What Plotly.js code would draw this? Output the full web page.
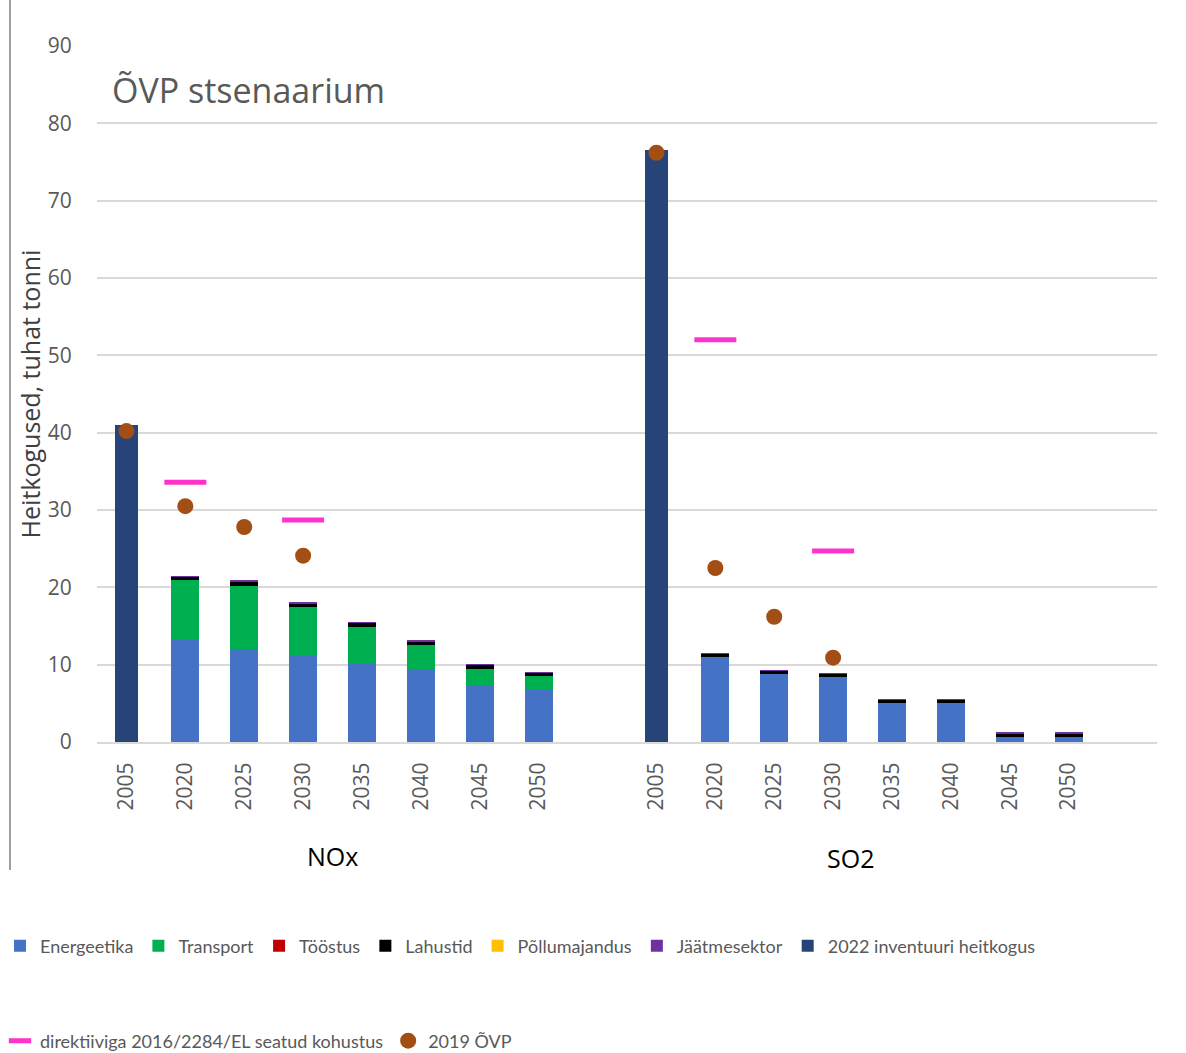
<!DOCTYPE html>
<html>
<head>
<meta charset="utf-8">
<script src="https://cdn.plot.ly/plotly-3.0.1.min.js"></script>
<style>html,body{margin:0;padding:0;background:#fff;}#chart{width:1186px;height:1053px;}</style>
</head>
<body>
<div id="chart"></div>
<script>
// ---- Data ----
const years = ["2005","2020","2025","2030","2035","2040","2045","2050"];
const groups = ["NOx","SO2"];

const noxEnergeetika   = [null, 13.3, 12.0, 11.1, 10.2, 9.4, 7.2, 6.7];
const noxTransport     = [null, 7.7, 8.2, 6.4, 4.7, 3.1, 2.2, 1.8];
const noxToostus       = [null, 0, 0, 0, 0, 0, 0, 0];
const noxLahustid      = [null, 0.35, 0.5, 0.4, 0.45, 0.45, 0.5, 0.4];
const noxPollumajandus = [null, 0, 0, 0, 0, 0, 0, 0];
const noxJaatme        = [null, 0.15, 0.25, 0.15, 0.2, 0.2, 0.15, 0.1];
const noxInventuur     = [41.0, null, null, null, null, null, null, null];
const noxKohustus      = [null, 33.6, null, 28.7, null, null, null, null];
const noxOvp2019       = [40.2, 30.5, 27.8, 24.1, null, null, null, null];

const so2Energeetika   = [null, 10.8, 8.8, 8.45, 5.1, 5.1, 0.65, 0.7];
const so2Transport     = [null, 0.15, 0, 0, 0, 0, 0, 0];
const so2Toostus       = [null, 0, 0, 0, 0, 0, 0, 0];
const so2Lahustid      = [null, 0.37, 0.37, 0.37, 0.37, 0.37, 0.42, 0.37];
const so2Pollumajandus = [null, 0, 0, 0, 0, 0, 0, 0];
const so2Jaatme        = [null, 0.2, 0.2, 0.15, 0.15, 0.15, 0.2, 0.2];
const so2Inventuur     = [76.5, null, null, null, null, null, null, null];
const so2Kohustus      = [null, 52.0, null, 24.7, null, null, null, null];
const so2Ovp2019       = [76.2, 22.5, 16.2, 10.9, null, null, null, null];

// ---- Category positions (one empty slot between groups) ----
const noxX = years.map((_, i) => i);
const so2X = years.map((_, i) => i + years.length + 1);
const allX = noxX.concat(so2X);
const tickText = years.concat(years);

const gray = '#595959';
const sectors = [
  {name: 'Energeetika', nox: noxEnergeetika, so2: so2Energeetika, color: '#4472C4'},
  {name: 'Transport', nox: noxTransport, so2: so2Transport, color: '#00B050'},
  {name: 'Tööstus', nox: noxToostus, so2: so2Toostus, color: '#C00000'},
  {name: 'Lahustid', nox: noxLahustid, so2: so2Lahustid, color: '#000000'},
  {name: 'Põllumajandus', nox: noxPollumajandus, so2: so2Pollumajandus, color: '#FFC000'},
  {name: 'Jäätmesektor', nox: noxJaatme, so2: so2Jaatme, color: '#7030A0'}
];

const traces = sectors.map(s => ({
  type: 'bar', name: s.name, x: allX, y: s.nox.concat(s.so2),
  width: 0.47, marker: {color: s.color, line: {width: 0}},
  legend: 'legend', hoverinfo: 'name+y'
}));
traces.push({
  type: 'bar', name: '2022 inventuuri heitkogus', x: allX, y: noxInventuur.concat(so2Inventuur),
  width: 0.39, marker: {color: '#264478', line: {width: 0}}, legend: 'legend'
});
traces.push({
  type: 'scatter', mode: 'markers', name: 'direktiiviga 2016/2284/EL seatud kohustus',
  x: allX, y: noxKohustus.concat(so2Kohustus),
  marker: {symbol: 'line-ew', size: 30, color: '#FF33CC', line: {color: '#FF33CC', width: 5}},
  legend: 'legend2'
});
traces.push({
  type: 'scatter', mode: 'markers', name: '2019 ÕVP',
  x: allX, y: noxOvp2019.concat(so2Ovp2019),
  marker: {symbol: 'circle', size: 16, color: '#A24E14'},
  legend: 'legend2'
});

const W = 1186, H = 1053;
const plotL = 97, plotR = 1157, plotT = 46, plotB = 742;
const pw = plotR - plotL, ph = plotB - plotT;
const py = p => (plotB - p) / ph;   // pixel y -> paper y
const px = p => (p - plotL) / pw;   // pixel x -> paper x

const layout = {
  width: W, height: H,
  margin: {l: plotL, r: W - plotR, t: plotT, b: H - plotB},
  paper_bgcolor: '#fff', plot_bgcolor: '#fff',
  barmode: 'stack', bargap: 0,
  font: {family: '"Open Sans", sans-serif', color: gray},
  xaxis: {
    range: [-0.5, 17.5], tickmode: 'array', tickvals: allX, ticktext: tickText,
    tickangle: -90, ticks: 'outside', ticklen: 10, tickcolor: 'rgba(0,0,0,0)',
    tickfont: {size: 21, color: gray}, showgrid: false, zeroline: false,
    showline: true, linecolor: '#D9D9D9', linewidth: 2, fixedrange: true, automargin: false
  },
  yaxis: {
    range: [0, 90], dtick: 10, tick0: 0, showgrid: true, gridcolor: '#D9D9D9', gridwidth: 2,
    zeroline: false, ticks: 'outside', ticklen: 20, tickcolor: 'rgba(0,0,0,0)',
    tickfont: {size: 21, color: gray}, fixedrange: true, automargin: false,
    title: {text: 'Heitkogused, tuhat tonni', font: {size: 25, color: '#404040'}, standoff: 0}
  },
  showlegend: true,
  legend: {
    orientation: 'h', xref: 'container', yref: 'container', x: 0, xanchor: 'left',
    y: 1 - 946 / H, yanchor: 'middle',
    font: {family: 'Lato, sans-serif', size: 18, color: gray}, itemwidth: 30,
    bgcolor: 'rgba(0,0,0,0)', traceorder: 'normal'
  },
  legend2: {
    orientation: 'h', xref: 'container', yref: 'container', x: 0, xanchor: 'left',
    y: 1 - 1041 / H, yanchor: 'middle',
    font: {family: 'Lato, sans-serif', size: 18, color: gray}, itemwidth: 30,
    bgcolor: 'rgba(0,0,0,0)', traceorder: 'normal'
  },
  annotations: [
    {text: 'ÕVP stsenaarium', xref: 'paper', yref: 'paper', x: px(110), y: py(90),
     xanchor: 'left', yanchor: 'middle', showarrow: false,
     font: {size: 34, color: gray, family: '"Open Sans", sans-serif'}},
    {text: groups[0], xref: 'x', yref: 'paper', x: 3.5, y: py(856), xanchor: 'center', yanchor: 'middle',
     showarrow: false, font: {size: 25, color: '#000'}},
    {text: groups[1], xref: 'x', yref: 'paper', x: 12.3, y: py(858), xanchor: 'center', yanchor: 'middle',
     showarrow: false, font: {size: 25, color: '#000'}}
  ],
  shapes: [
    {type: 'line', xref: 'paper', yref: 'paper', x0: px(10), x1: px(10), y0: py(0), y1: py(870),
     line: {color: '#7F7F7F', width: 1.5}}
  ]
};

Plotly.newPlot('chart', traces, layout, {displayModeBar: false, staticPlot: true});
</script>
</body>
</html>
